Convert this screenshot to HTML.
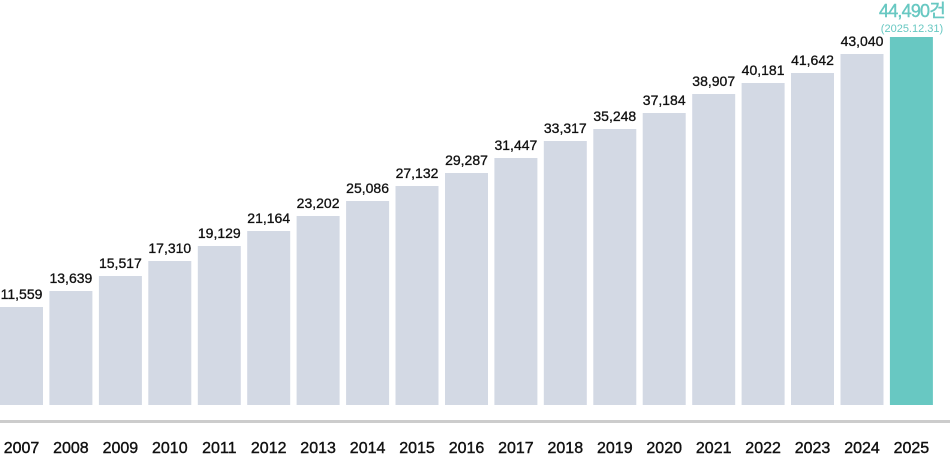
<!DOCTYPE html>
<html><head><meta charset="utf-8"><style>
html,body{margin:0;padding:0;background:#fff;width:950px;height:460px;overflow:hidden}
</style></head><body>
<svg width="950" height="460" xmlns="http://www.w3.org/2000/svg" font-family="'Liberation Sans','Noto Sans CJK KR',sans-serif">
<rect x="0" y="420" width="950" height="3" fill="#cccccc"/>
<g id="bars"></g>
<text x="912" y="17" text-anchor="middle" font-size="18" fill="#68c8c2" letter-spacing="-0.8" stroke="#68c8c2" stroke-width="0.4">44,490건</text>
<text x="912" y="32" text-anchor="middle" font-size="11" fill="#68c8c2">(2025.12.31)</text>
</svg>
<script>
var v=[11559,13639,15517,17310,19129,21164,23202,25086,27132,29287,31447,33317,35248,37184,38907,40181,41642,43040,44490];
var t=[307,291,276,261,246,231,216,201,186,173,158,141,129,113,94,83,73,54,37];
var g=document.getElementById('bars'),s='';
for(var i=0;i<19;i++){
 var x=i*49.44,y=t[i],h=405-y,c=x+21.5;
 s+='<rect x="'+x.toFixed(1)+'" y="'+y+'" width="43" height="'+h+'" fill="'+(i==18?'#68c8c2':'#d3d9e4')+'"/>';
 if(i<18) s+='<text x="'+c.toFixed(1)+'" y="'+(y-8)+'" text-anchor="middle" font-size="14" fill="#111" stroke="#111" stroke-width="0.3">'+v[i].toLocaleString('en-US')+'</text>';
 s+='<text x="'+c.toFixed(1)+'" y="453" text-anchor="middle" font-size="16" fill="#111" stroke="#111" stroke-width="0.4">'+(2007+i)+'</text>';
}
g.innerHTML=s;
</script>
</body></html>
